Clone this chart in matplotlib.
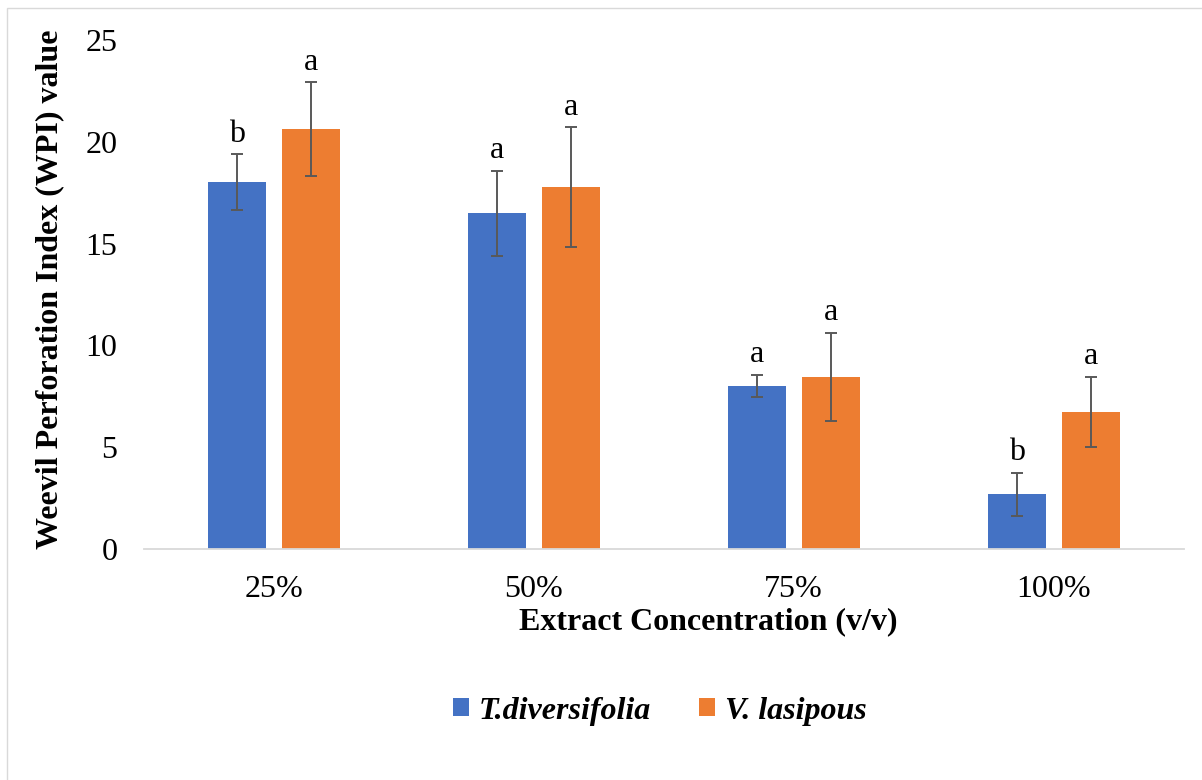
import matplotlib
matplotlib.use("Agg")
import matplotlib.pyplot as plt
from matplotlib.patches import Rectangle
import numpy as np

plt.rcParams['font.family'] = ['Liberation Serif', 'DejaVu Serif']

# Data
categories = ['25%', '50%', '75%', '100%']
species = ['T.diversifolia', 'V. lasipous']
t_div_mean = [18.03, 16.49, 8.02, 2.68]
t_div_err = [1.37, 2.10, 0.54, 1.07]
v_las_mean = [20.62, 17.77, 8.47, 6.75]
v_las_err = [2.31, 2.95, 2.16, 1.72]
t_div_letters = ['b', 'a', 'a', 'b']
v_las_letters = ['a', 'a', 'a', 'a']
y_ticks = [0, 5, 10, 15, 20, 25]

BLUE = '#4472C4'
ORANGE = '#ED7D31'
ERR = '#595959'
AXIS_GRAY = '#D9D9D9'
FS = 23

W, H = 1202, 780
fig = plt.figure(figsize=(W / 100, H / 100), dpi=100)

# chart-area frame
fig.patches.append(Rectangle((7 / W, -0.05), 1.2, (H - 8.5) / H + 0.05,
                             transform=fig.transFigure, fill=False,
                             edgecolor=AXIS_GRAY, linewidth=1.0))

left, right = 144, 1183.5
y0, y25 = 549, 40
ax = fig.add_axes([left / W, (H - y0) / H, (right - left) / W, (y0 - y25) / H])

x = np.arange(len(categories))
bw = 0.223
off = 0.1424

err_kw = dict(ecolor=ERR, elinewidth=1.4, capsize=4.5, capthick=1.4)
ax.bar(x - off, t_div_mean, bw, yerr=t_div_err, color=BLUE,
       label=species[0], error_kw=err_kw, zorder=2)
ax.bar(x + off, v_las_mean, bw, yerr=v_las_err, color=ORANGE,
       label=species[1], error_kw=err_kw, zorder=2)

# significance letters above the error bars
for xi, m, e, s in zip(x - off, t_div_mean, t_div_err, t_div_letters):
    ax.annotate(s, (xi, m + e), xytext=(0, 9), textcoords='offset points',
                ha='center', va='baseline', fontsize=FS)
for xi, m, e, s in zip(x + off, v_las_mean, v_las_err, v_las_letters):
    ax.annotate(s, (xi, m + e), xytext=(0, 9), textcoords='offset points',
                ha='center', va='baseline', fontsize=FS)

ax.set_xlim(-0.5, len(categories) - 0.5)
ax.set_ylim(0, 25)
ax.set_yticks(y_ticks)
ax.set_yticklabels([str(v) for v in y_ticks])
ax.set_xticks(x)
ax.set_xticklabels(categories)
ax.tick_params(axis='both', length=0, labelsize=FS)
ax.tick_params(axis='y', pad=19)
ax.tick_params(axis='x', pad=19)

for sp in ['top', 'right', 'left']:
    ax.spines[sp].set_visible(False)
ax.spines['bottom'].set_color(AXIS_GRAY)
ax.spines['bottom'].set_linewidth(1.3)

fig.text(708 / W, 1 - 622 / H, 'Extract Concentration (v/v)', ha='center',
         va='center', fontsize=FS, fontweight='bold')
fig.text(50 / W, 1 - 289 / H, 'Weevil Perforation Index (WPI) value',
         ha='center', va='center', rotation=90, fontsize=FS,
         fontweight='bold')

leg = fig.legend(loc='center', bbox_to_anchor=(660 / W, 1 - 711 / H),
                 ncol=2, frameon=False, handlelength=0.5, handleheight=0.5,
                 handletextpad=0.3, columnspacing=1.5,
                 prop={'family': 'Liberation Serif', 'weight': 'bold',
                       'style': 'italic', 'size': FS})

fig.savefig('out.png', dpi=100)
